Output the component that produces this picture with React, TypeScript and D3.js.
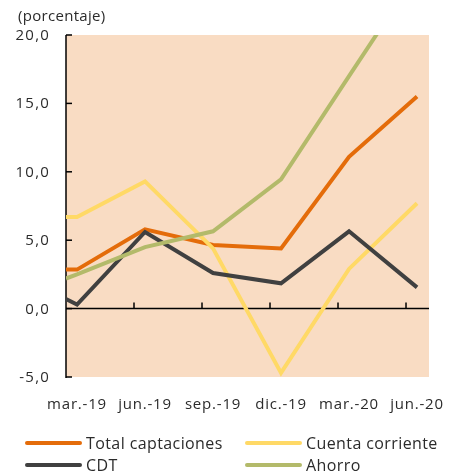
import React, { useEffect, useRef } from 'react';
import * as d3 from 'd3';

// quarterly periods, plus one leading point drawn at the left edge
const categories = ['mar.-19', 'jun.-19', 'sep.-19', 'dic.-19', 'mar.-20', 'jun.-20'];
const yTicks = [-5, 0, 5, 10, 15, 20];

const totalLead = 2.85;
const totalValues = [2.85, 5.8, 4.65, 4.4, 11.1, 15.5];
const cuentaLead = 6.7;
const cuentaValues = [6.7, 9.3, 4.4, -4.7, 2.9, 7.7];
const cdtLead = 0.7;
const cdtValues = [0.3, 5.6, 2.6, 1.85, 5.65, 1.55];
const ahorroLead = 2.2;
const ahorroValues = [2.5, 4.5, 5.65, 9.45, 17.0, 24.5];

const series = [
  { name: 'Total captaciones', lead: totalLead, values: totalValues, color: '#E46C0A' },
  { name: 'Cuenta corriente', lead: cuentaLead, values: cuentaValues, color: '#FFD966' },
  { name: 'CDT', lead: cdtLead, values: cdtValues, color: '#404040' },
  { name: 'Ahorro', lead: ahorroLead, values: ahorroValues, color: '#B3BA6A' },
];

const App = () => {
  const ref = useRef<SVGSVGElement | null>(null);

  useEffect(() => {
    const svg = d3.select(ref.current);
    svg.selectAll('*').remove();

    const font = '"Open Sans", Lato, sans-serif';
    const left = 66;
    const right = 429;
    const top = 35;
    const bottom = 377;

    const xMin = -0.162;
    const x = d3.scaleLinear().domain([xMin, 5.176]).range([left, right]);
    const y = d3.scaleLinear().domain([-5, 20]).range([bottom, top]);

    const txt = (sel: any, size: number, spacing: number) =>
      sel.style('font-family', font).style('font-size', `${size}px`)
        .style('letter-spacing', `${spacing}px`).style('fill', '#2b2b2b');

    // plot background
    svg.append('rect')
      .attr('x', left).attr('y', top)
      .attr('width', right - left).attr('height', bottom - top)
      .attr('fill', '#F9DCC3');

    svg.append('clipPath').attr('id', 'plotclip')
      .append('rect')
      .attr('x', left).attr('y', top)
      .attr('width', right - left).attr('height', bottom - top);

    // title
    txt(svg.append('text').attr('x', 18).attr('y', 21), 15, 0.3).text('(porcentaje)');

    // y axis
    svg.append('line')
      .attr('x1', left).attr('x2', left)
      .attr('y1', y(20)).attr('y2', y(-5) + 1)
      .attr('stroke', '#000').attr('stroke-width', 1.5);
    yTicks.forEach((t) => {
      svg.append('line')
        .attr('x1', left).attr('x2', left + 6)
        .attr('y1', y(t)).attr('y2', y(t))
        .attr('stroke', '#000').attr('stroke-width', 1.5);
      txt(svg.append('text').attr('x', 50).attr('y', y(t) + 5).attr('text-anchor', 'end'), 15, 1.2)
        .text(t.toFixed(1).replace('.', ','));
    });

    // zero line with tick marks
    svg.append('line')
      .attr('x1', left).attr('x2', right)
      .attr('y1', y(0)).attr('y2', y(0))
      .attr('stroke', '#000').attr('stroke-width', 1.5);
    d3.range(1, 6).forEach((k) => {
      svg.append('line')
        .attr('x1', x(xMin + k)).attr('x2', x(xMin + k))
        .attr('y1', y(0)).attr('y2', y(0) - 6)
        .attr('stroke', '#000').attr('stroke-width', 1.5);
    });

    // x labels
    categories.forEach((c, i) => {
      txt(svg.append('text').attr('x', x(i)).attr('y', 409).attr('text-anchor', 'middle'), 15, 0.8)
        .text(c);
    });

    // lines
    const line = d3.line<[number, number]>().x((d) => x(d[0])).y((d) => y(d[1]));
    const g = svg.append('g').attr('clip-path', 'url(#plotclip)');
    series.forEach((s) => {
      const pts: [number, number][] = [[xMin, s.lead], ...s.values.map((v, i) => [i, v] as [number, number])];
      g.append('path')
        .attr('d', line(pts))
        .attr('fill', 'none')
        .attr('stroke', s.color)
        .attr('stroke-width', 4)
        .attr('stroke-linejoin', 'miter');
    });

    // legend
    series.forEach((s, i) => {
      const lx = i % 2 === 0 ? 27 : 247;
      const ly = i < 2 ? 443 : 465;
      svg.append('line')
        .attr('x1', lx).attr('x2', lx + 53)
        .attr('y1', ly).attr('y2', ly)
        .attr('stroke', s.color).attr('stroke-width', 4)
        .attr('stroke-linecap', 'round');
      txt(svg.append('text').attr('x', lx + 59).attr('y', ly + 6), 16, 0.4).text(s.name);
    });
  }, []);

  return (
    <svg
      ref={ref}
      width={450}
      height={475}
      style={{ display: 'block', position: 'fixed', left: 0, top: 0 }}
    />
  );
};

export default App;
